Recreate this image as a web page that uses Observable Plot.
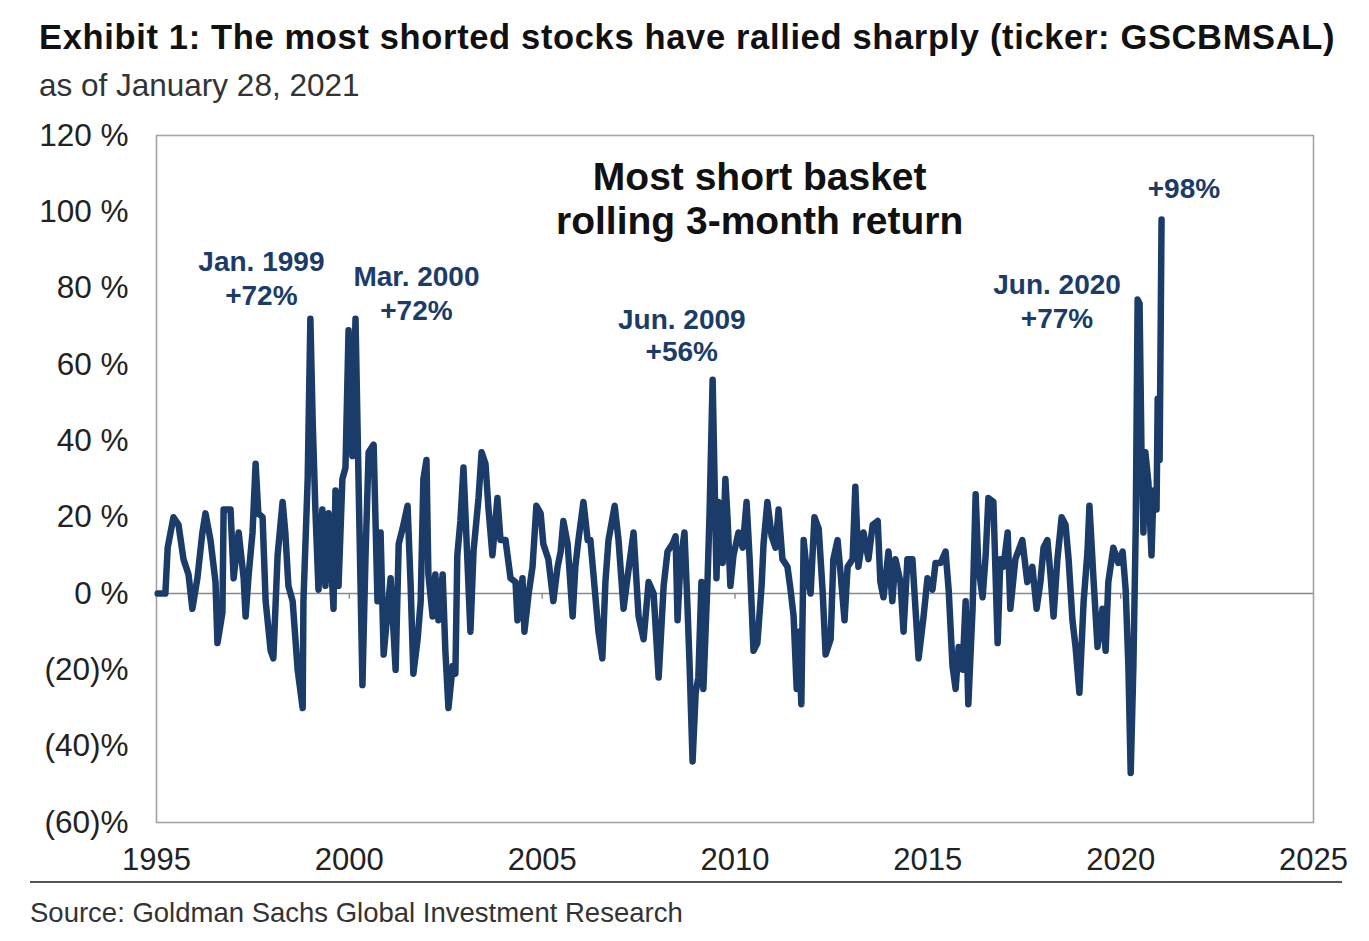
<!DOCTYPE html>
<html>
<head>
<meta charset="utf-8">
<script src="https://cdn.jsdelivr.net/npm/d3@7"></script>
<script src="https://cdn.jsdelivr.net/npm/@observablehq/plot@0.6"></script>
<style>
  html, body { margin: 0; padding: 0; background: #fff; }
  body { width: 1369px; height: 941px; font-family: "Liberation Sans", Arial, sans-serif; position: relative; overflow: hidden; }
  #head { height: 110px; position: relative; }
  #title { position: absolute; left: 39px; top: 18px; font-size: 34.5px; letter-spacing: 0.65px; font-weight: bold; color: #111; white-space: nowrap; }
  #subtitle { position: absolute; left: 39px; top: 67px; font-size: 31.5px; color: #333; white-space: nowrap; }
  #chart { height: 770px; }
  #rule { position: absolute; left: 30px; top: 881px; width: 1312px; border-top: 2px solid #555; }
  #source { position: absolute; left: 30px; top: 897px; font-size: 27.5px; color: #333; white-space: nowrap; }
</style>
</head>
<body>
<div id="head">
  <div id="title">Exhibit 1: The most shorted stocks have rallied sharply (ticker: GSCBMSAL)</div>
  <div id="subtitle">as of January 28, 2021</div>
</div>
<div id="chart"></div>
<div id="rule"></div>
<div id="source">Source: Goldman Sachs Global Investment Research</div>
<script>
// Dates as decimal years, rolling 3-month return in %
const dates = [
  1995.03,1995.23,1995.29,1995.44,1995.57,1995.70,1995.83,1995.93,1996.06,1996.19,
  1996.27,1996.40,1996.53,1996.58,1996.71,1996.74,1996.92,1997.00,1997.13,1997.26,
  1997.31,1997.39,1997.49,1997.57,1997.64,1997.75,1997.83,1997.96,1998.03,1998.14,
  1998.27,1998.34,1998.42,1998.53,1998.66,1998.79,1998.81,1998.92,1998.99,1999.05,
  1999.12,1999.20,1999.30,1999.38,1999.46,1999.59,1999.64,1999.72,1999.82,1999.90,
  1999.98,2000.08,2000.16,2000.24,2000.34,2000.42,2000.50,2000.63,2000.73,2000.81,
  2000.89,2001.07,2001.20,2001.28,2001.38,2001.51,2001.59,2001.66,2001.77,2001.85,
  2001.92,2002.00,2002.05,2002.16,2002.23,2002.31,2002.42,2002.49,2002.57,2002.68,
  2002.75,2002.80,2002.88,2002.96,2003.06,2003.14,2003.22,2003.35,2003.43,2003.53,
  2003.61,2003.71,2003.84,2003.92,2004.05,2004.18,2004.31,2004.36,2004.49,2004.54,
  2004.65,2004.75,2004.85,2004.96,2005.03,2005.16,2005.29,2005.40,2005.48,2005.55,
  2005.66,2005.79,2005.86,2005.94,2006.07,2006.18,2006.25,2006.33,2006.46,2006.56,
  2006.64,2006.72,2006.88,2006.98,2007.11,2007.21,2007.37,2007.50,2007.63,2007.76,
  2007.89,2008.02,2008.15,2008.25,2008.38,2008.46,2008.51,2008.59,2008.69,2008.77,
  2008.82,2008.90,2008.98,2009.05,2009.13,2009.18,2009.29,2009.34,2009.42,2009.47,
  2009.52,2009.57,2009.68,2009.75,2009.81,2009.88,2009.96,2010.09,2010.20,2010.30,
  2010.38,2010.48,2010.58,2010.69,2010.74,2010.84,2010.95,2011.05,2011.13,2011.23,
  2011.36,2011.44,2011.52,2011.60,2011.65,2011.72,2011.78,2011.88,2011.96,2012.06,
  2012.17,2012.27,2012.35,2012.48,2012.55,2012.66,2012.74,2012.84,2012.92,2013.05,
  2013.12,2013.20,2013.33,2013.46,2013.57,2013.70,2013.77,2013.85,2013.98,2014.08,
  2014.16,2014.29,2014.37,2014.47,2014.60,2014.68,2014.76,2014.89,2014.99,2015.12,
  2015.20,2015.33,2015.46,2015.54,2015.64,2015.72,2015.80,2015.90,2015.98,2016.05,
  2016.16,2016.24,2016.31,2016.42,2016.50,2016.57,2016.70,2016.81,2016.88,2016.96,
  2017.07,2017.14,2017.27,2017.45,2017.58,2017.71,2017.82,2017.92,2018.00,2018.10,
  2018.18,2018.26,2018.36,2018.47,2018.57,2018.65,2018.75,2018.83,2018.93,2019.04,
  2019.14,2019.19,2019.30,2019.40,2019.53,2019.61,2019.68,2019.81,2019.94,2020.05,
  2020.13,2020.20,2020.26,2020.33,2020.39,2020.44,2020.49,2020.54,2020.59,2020.64,
  2020.72,2020.80,2020.85,2020.93,2020.96,2021.01,2021.06
];
const returns = [
  0,0,12,20,18,9,5,-4,4,16,
  21,14,3,-13,-5,22,22,4,16,4,
  -6,5,16,34,21,20,-2,-15,-17,10,
  24,16,2,-2,-20,-30,-2,30,72,45,
  22,1,22,2,21,-4,27,2,30,33,
  69,36,72,29,-24,10,37,39,-2,16,
  -16,4,-20,13,17,23,2,-21,-12,-2,
  30,35,5,-6,5,-7,5,-15,-30,-19,
  -21,10,19,33,9,-10,11,25,37,34,
  22,10,25,14,14,4,3,-7,4,-10,
  0,7,23,21,13,9,-2,7,11,19,
  13,-6,7,14,24,14,14,5,-10,-17,
  3,14,23,14,-4,4,16,-6,-12,3,
  0,-22,2,11,13,15,-7,9,16,-4,
  -18,-44,-26,-22,3,-25,4,21,56,30,
  4,24,8,30,19,2,10,16,12,24,
  9,-15,-13,2,13,24,15,12,22,9,
  7,1,-6,-25,-10,-29,14,4,0,20,
  17,1,-16,-12,9,14,5,-7,7,9,
  28,7,16,9,18,19,3,-1,11,-2,
  9,3,-10,9,9,-4,-17,-6,4,1,
  8,8,11,1,-19,-25,-14,-20,-2,-29,
  -4,26,7,-1,10,25,24,-13,9,7,
  16,-4,9,14,3,7,-4,3,12,14,
  5,-6,9,20,18,9,-7,-14,-26,-2,
  11,23,3,-14,-4,-15,3,12,8,11,
  1,-19,-47,-19,17,77,76,37,16,37,
  29,10,27,22,51,35,98
];
const xTicks = [1995, 2000, 2005, 2010, 2015, 2020, 2025];
const yTicks = [-60, -40, -20, 0, 20, 40, 60, 80, 100, 120];
const peakLabels = ["Jan. 1999\n+72%", "Mar. 2000\n+72%", "Jun. 2009\n+56%", "Jun. 2020\n+77%", "+98%"];
const chartTitle = "Most short basket\nrolling 3-month return";

const series = dates.map((d, i) => ({date: d, ret: returns[i]}));
const navy = "#1b3b69";
const fmtY = v => v >= 0 ? `${v} %` : `(${-v})%`;

const plot = Plot.plot({
  width: 1369,
  height: 770,
  marginLeft: 156,
  marginRight: 56,
  marginTop: 25,
  marginBottom: 58,
  style: {fontFamily: "'Liberation Sans', Arial, sans-serif", background: "#fff", color: "#222"},
  x: {domain: [1995, 2025], ticks: xTicks, tickFormat: d => String(d), label: null},
  y: {domain: [-60, 120], ticks: yTicks, tickFormat: fmtY, label: null},
  marks: [
    Plot.frame({stroke: "#a3a3a3", strokeWidth: 1.6}),
    Plot.ruleY([0], {stroke: "#8a8a8a", strokeWidth: 1.4}),
    Plot.ruleX(xTicks.slice(1, -1), {x: d => d, y1: 0, y2: -1.5, stroke: "#8a8a8a", strokeWidth: 1.4}),
    Plot.axisX({ticks: xTicks, tickFormat: d => String(d), tickSize: 0, tickPadding: 25, fontSize: 31, fill: "#222", label: null}),
    Plot.axisY({ticks: yTicks, tickFormat: fmtY, tickSize: 0, tickPadding: 28, fontSize: 31.5, fill: "#222", label: null}),
    Plot.line(series, {x: "date", y: "ret", stroke: navy, strokeWidth: 6.5, strokeLinejoin: "round", strokeLinecap: "round"}),
    Plot.text([chartTitle], {x: 2010.64, y: 103.7, text: d => d, fontSize: 39, fontWeight: "bold", fill: "#111", lineHeight: 1.13}),
    Plot.text([peakLabels[0]], {x: 1997.72, y: 82.8, text: d => d, fontSize: 28, fontWeight: "bold", fill: navy, lineHeight: 1.22}),
    Plot.text([peakLabels[1]], {x: 2001.74, y: 79.0, text: d => d, fontSize: 28, fontWeight: "bold", fill: navy, lineHeight: 1.2}),
    Plot.text([peakLabels[2]], {x: 2008.62, y: 67.7, text: d => d, fontSize: 28, fontWeight: "bold", fill: navy, lineHeight: 1.12}),
    Plot.text([peakLabels[3]], {x: 2018.35, y: 76.9, text: d => d, fontSize: 28, fontWeight: "bold", fill: navy, lineHeight: 1.2}),
    Plot.text([peakLabels[4]], {x: 2021.64, y: 106.1, text: d => d, fontSize: 28, fontWeight: "bold", fill: navy})
  ]
});
document.getElementById("chart").appendChild(plot);
</script>
</body>
</html>
